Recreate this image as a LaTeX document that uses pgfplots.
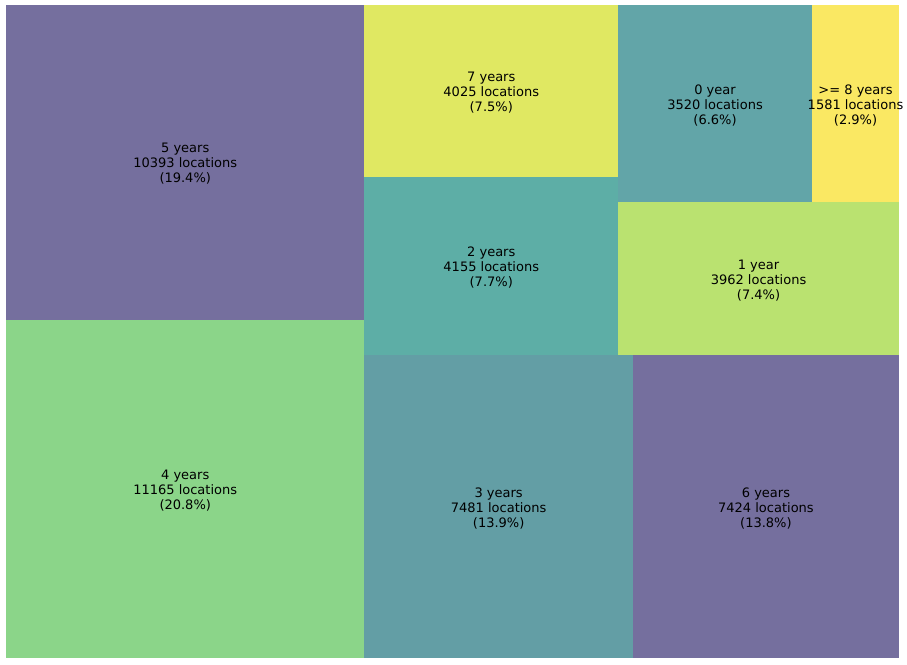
\documentclass[border=0pt]{standalone}
\usepackage{pgfplots}
\pgfplotsset{compat=1.18}
\usepackage{fontspec}
\setmainfont{DejaVu Sans}
\definecolor{cPurple}{RGB}{117,111,158}
\definecolor{cGreen}{RGB}{139,213,137}
\definecolor{cThree}{RGB}{99,158,165}
\definecolor{cTwo}{RGB}{93,174,166}
\definecolor{cSeven}{RGB}{224,232,98}
\definecolor{cZero}{RGB}{98,165,168}
\definecolor{cEight}{RGB}{250,232,99}
\definecolor{cOne}{RGB}{186,226,112}
\tikzset{lbl/.style={font=\fontsize{13}{15}\selectfont, align=center, text=black, inner sep=0pt, yshift=-1.5pt}}
\begin{document}
\begin{tikzpicture}
\path[use as bounding box] (-6pt,-6pt) rectangle (901pt,658pt);
\begin{axis}[
  at={(0pt,0pt)}, anchor=south west,
  scale only axis, width=893pt, height=653pt,
  xmin=0, xmax=100, ymin=0, ymax=100,
  hide axis, clip=false,
]
% 4 years: 11165
\addplot[draw=none, fill=cGreen] coordinates {(0,0) (40.14,0) (40.14,51.79) (0,51.79)} --cycle;
% 5 years: 10393
\addplot[draw=none, fill=cPurple] coordinates {(0,51.79) (40.14,51.79) (40.14,100) (0,100)} --cycle;
% 3 years: 7481
\addplot[draw=none, fill=cThree] coordinates {(40.14,0) (70.19,0) (70.19,46.36) (40.14,46.36)} --cycle;
% 6 years: 7424
\addplot[draw=none, fill=cPurple] coordinates {(70.19,0) (100,0) (100,46.36) (70.19,46.36)} --cycle;
% 2 years: 4155
\addplot[draw=none, fill=cTwo] coordinates {(40.14,46.36) (68.54,46.36) (68.54,73.60) (40.14,73.60)} --cycle;
% 7 years: 4025
\addplot[draw=none, fill=cSeven] coordinates {(40.14,73.60) (68.54,73.60) (68.54,100) (40.14,100)} --cycle;
% 1 year: 3962
\addplot[draw=none, fill=cOne] coordinates {(68.54,46.36) (100,46.36) (100,69.81) (68.54,69.81)} --cycle;
% 0 year: 3520
\addplot[draw=none, fill=cZero] coordinates {(68.54,69.81) (90.25,69.81) (90.25,100) (68.54,100)} --cycle;
% >= 8 years: 1581
\addplot[draw=none, fill=cEight] coordinates {(90.25,69.81) (100,69.81) (100,100) (90.25,100)} --cycle;

\node[lbl] at (axis cs:20.07,25.90) {4 years\\11165 locations\\(20.8\%)};
\node[lbl] at (axis cs:20.07,75.90) {5 years\\10393 locations\\(19.4\%)};
\node[lbl] at (axis cs:55.17,23.18) {3 years\\7481 locations\\(13.9\%)};
\node[lbl] at (axis cs:85.10,23.18) {6 years\\7424 locations\\(13.8\%)};
\node[lbl] at (axis cs:54.34,59.98) {2 years\\4155 locations\\(7.7\%)};
\node[lbl] at (axis cs:54.34,86.80) {7 years\\4025 locations\\(7.5\%)};
\node[lbl] at (axis cs:84.27,58.09) {1 year\\3962 locations\\(7.4\%)};
\node[lbl] at (axis cs:79.40,84.90) {0 year\\3520 locations\\(6.6\%)};
\node[lbl] at (axis cs:95.13,84.90) {>= 8 years\\1581 locations\\(2.9\%)};
\end{axis}
\end{tikzpicture}
\end{document}
